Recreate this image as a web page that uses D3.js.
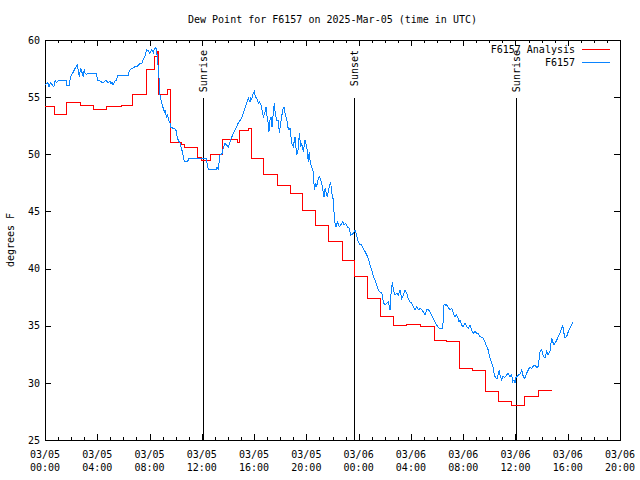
<!DOCTYPE html>
<html><head><meta charset="utf-8">
<script src="https://cdn.jsdelivr.net/npm/d3@7"></script>
<style>
body{margin:0;background:#fff;}
text{font-family:"DejaVu Sans Mono",monospace;font-size:10px;fill:#000;}
</style></head>
<body><svg id="c" width="640" height="480"></svg>
<script>
const title = "Dew Point for F6157 on 2025-Mar-05 (time in UTC)";
const yLabel = "degrees F";
const yTicks = [25,30,35,40,45,50,55,60];
const xTickHours = [0,4,8,12,16,20,24,28,32,36,40,44];
const xTickLabels = [["03/05","00:00"],["03/05","04:00"],["03/05","08:00"],["03/05","12:00"],["03/05","16:00"],["03/05","20:00"],["03/06","00:00"],["03/06","04:00"],["03/06","08:00"],["03/06","12:00"],["03/06","16:00"],["03/06","20:00"]];
const seriesNames = ["F6157 Analysis","F6157"];
const events = [["Sunrise",12.09],["Sunset",23.68],["Sunrise",36.04]];

// analysis (step) : [hours since 03/05 00:00 UTC, deg F]
const analysisSteps = [[0,54.2],[0.71,53.5],[1.68,54.5],[2.73,54.25],[3.7,53.9],[4.72,54.2],[5.82,54.3],[6.71,55.2],[7.75,57.45],[8.36,58.6],[8.62,59.0],[8.72,55.25],[9.39,55.7],[9.62,51.0],[10.41,50.9],[10.64,50.6],[11.66,49.7],[12.0,49.5],[12.7,50.0],[13.56,51.3],[14.74,51.0],[14.92,52.1],[15.6,52.3],[15.77,49.6],[16.7,48.25],[17.77,47.3],[18.75,46.6],[19.69,45.1],[20.72,43.75],[21.69,42.4],[22.77,40.75],[23.72,39.3],[24.69,37.4],[25.69,35.8],[26.65,35.0],[27.68,35.1],[28.77,34.9],[29.77,33.7],[30.74,33.6],[31.68,31.3],[32.75,31.1],[33.74,29.25],[34.69,28.4],[35.71,28.0],[36.68,28.8],[37.75,29.35],[38.77,29.35]];

// station observations : [hours, deg F]
const stationObs = [[0.00,56.06],[0.21,56.26],[0.31,55.91],[0.44,56.30],[0.56,56.06],[0.67,55.91],[0.77,56.44],[0.90,56.26],[1.02,56.47],[1.61,56.47],[1.65,55.98],[1.86,55.98],[1.91,56.44],[1.99,56.88],[2.12,57.09],[2.24,57.38],[2.37,57.66],[2.50,57.87],[2.55,57.09],[2.62,56.85],[2.73,57.52],[2.81,57.23],[2.93,56.79],[3.01,57.44],[3.06,57.09],[3.19,57.00],[3.31,57.09],[3.96,57.09],[4.00,56.50],[4.21,56.41],[4.44,56.24],[4.67,56.50],[4.82,56.24],[4.97,56.41],[5.05,56.15],[5.13,56.33],[5.20,56.06],[5.36,56.41],[5.49,56.44],[5.53,56.85],[5.59,56.88],[6.37,56.88],[6.40,57.11],[6.50,57.38],[6.68,57.52],[6.89,57.66],[7.09,57.73],[7.27,57.96],[7.40,57.90],[7.52,58.31],[7.65,58.60],[7.78,59.13],[7.90,59.06],[8.03,58.84],[8.16,59.13],[8.29,58.89],[8.36,59.19],
[8.42,59.27],[8.49,59.36],[8.54,58.69],[8.62,58.69],[8.67,57.09],[8.72,56.79],[8.80,55.19],[8.88,54.75],[8.93,54.46],[9.05,54.02],[9.13,53.73],[9.18,53.88],[9.26,53.44],[9.31,53.29],[9.39,53.44],[9.44,53.00],[9.57,52.71],[9.64,52.36],[9.82,52.27],[10.00,52.19],[10.08,51.84],[10.12,51.40],[10.20,51.25],[10.33,50.96],[10.41,50.66],[10.54,50.09],[10.66,49.33],[10.84,49.33],[10.97,49.50],[11.02,49.65],[12.32,49.65],[12.50,48.69],[13.14,48.69],[13.16,48.86],[13.26,48.69],[13.39,49.94],[13.52,49.94],[13.64,50.52],[13.77,50.96],[13.90,50.81],[14.03,50.66],[14.16,51.10],[14.29,51.49],[14.41,51.84],[14.54,52.13],[14.67,52.41],[14.79,52.76],[14.92,52.94],[15.05,53.15],[15.17,53.59],[15.30,54.02],[15.43,54.46],[15.56,54.90],[15.69,54.60],[15.74,55.04],[15.82,54.75],[15.89,55.19],[16.02,55.48],[16.10,55.04],[16.20,54.90],[16.33,54.46],[16.41,54.60],[16.51,54.40],[16.58,54.02],[16.71,53.29],[16.84,53.73],[16.92,54.16],[16.97,53.44],[17.09,52.71],[17.14,51.98],[17.22,53.00],[17.29,53.29],[17.37,52.41],[17.47,53.59],[17.55,54.46],[17.62,53.59],[17.73,53.00],[17.85,53.00],[17.93,51.84],[18.04,52.71],[18.11,53.29],[18.19,53.88],[18.29,54.16],[18.37,53.59],[18.44,53.29],[18.54,52.85],[18.62,52.13],[18.75,52.27],[18.88,50.96],[19.00,50.66],[19.13,51.54],[19.26,49.94],[19.39,50.52],[19.46,51.84],[19.57,50.66],[19.64,50.96],[19.77,50.23],[19.90,51.25],[20.03,50.66],[20.15,49.35],[20.22,50.23],[20.28,49.50],[20.36,49.06],[20.53,48.48],[20.61,46.88],[20.72,47.46],[20.79,47.17],[20.91,47.90],[20.99,48.04],[21.10,47.75],[21.18,47.46],[21.30,46.59],[21.35,46.29],[21.43,47.02],[21.50,46.73],[21.60,46.29],[21.76,47.17],[21.86,47.60],[21.94,46.59],[22.02,46.44],[22.12,44.84],[22.19,43.96],[22.27,43.66],[22.37,44.10],[22.52,43.66],[22.63,43.81],[22.78,44.10],[22.88,43.81],[23.01,43.96],[23.13,43.66],[23.29,43.52],[23.39,42.94],[23.55,43.02],[23.72,43.38],[23.80,43.09],[23.93,42.50],[24.05,42.15],[24.23,42.06],[24.36,41.77],[24.49,41.48],[24.62,41.19],[24.74,40.90],[24.87,40.31],[25.00,39.88],[25.13,39.29],[25.25,39.00],[25.38,38.56],[25.51,38.13],[25.64,37.95],[25.77,37.84],[25.84,37.54],[25.89,37.05],[26.01,36.81],[26.15,36.96],[26.27,37.10],[26.32,36.81],[26.40,36.38],[26.47,37.69],[26.55,38.56],[26.59,38.85],[26.65,38.13],[26.78,37.69],[26.91,37.84],[27.04,37.69],[27.17,38.13],[27.30,37.40],[27.42,37.69],[27.55,38.13],[27.68,37.84],[27.78,37.40],[27.93,37.10],[28.06,36.96],[28.19,36.66],[28.32,36.38],[28.45,36.66],[28.57,36.38],[28.70,36.52],[28.83,36.38],[28.95,36.23],[29.08,35.94],[29.21,36.38],[29.33,36.38],[29.46,36.23],[29.59,35.94],[29.71,35.65],[29.84,35.35],[29.97,35.06],[30.10,34.83],[30.23,34.77],[30.43,34.77],[30.48,35.65],[30.53,36.81],[30.61,36.90],[30.69,36.73],[30.74,36.87],[30.86,36.58],[30.99,36.38],[31.12,36.52],[31.20,36.23],[31.30,35.94],[31.37,35.79],[31.50,35.94],[31.63,35.65],[31.68,35.35],[31.76,35.50],[31.89,35.06],[32.01,34.91],[32.14,35.21],[32.27,34.91],[32.39,34.77],[32.52,35.06],[32.65,34.63],[32.77,34.34],[32.90,34.48],[33.03,34.34],[33.16,34.34],[33.28,34.04],[33.41,33.98],[33.54,33.90],[33.67,33.60],[33.80,33.16],[33.92,32.88],[34.05,32.15],[34.18,31.71],[34.31,31.27],[34.38,30.69],[34.51,30.40],[34.61,30.40],[34.76,31.13],[34.82,30.69],[34.95,30.25],[35.02,30.54],[35.19,30.49],[35.32,30.69],[35.45,30.84],[35.58,30.54],[35.71,30.69],[35.79,30.10],[35.89,30.25],[35.97,29.96],[36.05,30.54],[36.10,30.49],[36.22,30.69],[36.35,30.78],[36.48,31.13],[36.60,30.54],[36.73,30.40],[36.86,30.84],[36.98,31.13],[37.11,31.41],[37.24,31.27],[37.37,31.47],[37.50,31.56],[37.65,31.30],[37.75,31.47],[37.82,32.15],[37.88,32.73],[38.01,32.88],[38.11,32.44],[38.26,32.15],[38.39,32.73],[38.49,32.44],[38.64,32.73],[38.77,33.90],[38.85,33.60],[38.95,33.31],[39.03,33.46],[39.16,33.75],[39.28,34.04],[39.41,34.34],[39.54,34.77],[39.62,35.06],[39.66,34.63],[39.79,33.90],[39.87,34.04],[39.97,34.19],[40.04,34.48],[40.17,34.77],[40.30,35.06],[40.43,35.35]];

const svg = d3.select("#c");
const L=45, R=620, T=40, B=440;
const x = d3.scaleLinear().domain([0,44]).range([L,R]);
const y = d3.scaleLinear().domain([25,60]).range([B,T]);
const hourTicks = d3.range(0,45,1).filter(h=>h%4!==0);

svg.append("rect").attr("width",640).attr("height",480).attr("fill","#fff");

// axes with inward ticks
const gB = svg.append("g").attr("transform",`translate(0,${B})`)
  .call(d3.axisBottom(x).tickValues(xTickHours).tickSize(-6).tickPadding(10).tickFormat((d,i)=>""));
const gBm = svg.append("g").attr("transform",`translate(0,${B})`)
  .call(d3.axisBottom(x).tickValues(hourTicks).tickSize(-3).tickFormat(""));
const gT = svg.append("g").attr("transform",`translate(0,${T})`)
  .call(d3.axisTop(x).tickValues(xTickHours).tickSize(-6).tickFormat(""));
const gTm = svg.append("g").attr("transform",`translate(0,${T})`)
  .call(d3.axisTop(x).tickValues(hourTicks).tickSize(-3).tickFormat(""));
const gL = svg.append("g").attr("transform",`translate(${L},0)`)
  .call(d3.axisLeft(y).tickValues(yTicks).tickSize(-6).tickPadding(5).tickFormat(d3.format("d")));
const gR = svg.append("g").attr("transform",`translate(${R},0)`)
  .call(d3.axisRight(y).tickValues(yTicks).tickSize(-6).tickFormat(""));
svg.selectAll(".domain").remove();
svg.selectAll(".tick line").attr("stroke","#000").attr("shape-rendering","crispEdges");
gL.selectAll("text").attr("font-family",null).attr("font-size",null).style("font-size","10px").style("font-family","DejaVu Sans Mono");

// two-line x labels
xTickHours.forEach((h,i)=>{
  const t = svg.append("text").attr("x",x(h)).attr("y",B+18).attr("text-anchor","middle");
  t.append("tspan").attr("x",x(h)).attr("y",B+18).text(xTickLabels[i][0]);
  t.append("tspan").attr("x",x(h)).attr("y",B+31).text(xTickLabels[i][1]);
});

// frame
svg.append("rect").attr("x",L+0.5).attr("y",T+0.5).attr("width",R-L).attr("height",B-T)
  .attr("fill","none").attr("stroke","#000").attr("shape-rendering","crispEdges");

// event lines
events.forEach(([lab,h])=>{
  svg.append("line").attr("x1",Math.round(x(h))+0.5).attr("x2",Math.round(x(h))+0.5)
    .attr("y1",98).attr("y2",B).attr("stroke","#000").attr("shape-rendering","crispEdges");
  svg.append("text").attr("transform",`translate(${Math.round(x(h))+4},50) rotate(-90)`)
    .attr("text-anchor","end").text(lab);
});

// series
const stepLine = d3.line().x(d=>x(d[0])).y(d=>y(d[1])).curve(d3.curveStepAfter);
svg.append("path").datum(analysisSteps).attr("d",stepLine).attr("fill","none")
  .attr("stroke","#ff0000").attr("stroke-width",1).attr("shape-rendering","crispEdges");
const obsLine = d3.line().x(d=>x(d[0])).y(d=>y(d[1]));
svg.append("path").datum(stationObs).attr("d",obsLine).attr("fill","none")
  .attr("stroke","#0a84ff").attr("stroke-width",1).attr("shape-rendering","crispEdges");

// legend
const legColors = ["#ff0000","#0a84ff"];
seriesNames.forEach((n,i)=>{
  const yy = 49 + i*13;
  svg.append("text").attr("x",575).attr("y",yy+3.5).attr("text-anchor","end").text(n);
  svg.append("line").attr("x1",582).attr("x2",610).attr("y1",yy+0.5).attr("y2",yy+0.5)
    .attr("stroke",legColors[i]).attr("shape-rendering","crispEdges");
});

// title & y label
svg.append("text").attr("x",(L+R)/2).attr("y",23).attr("text-anchor","middle").text(title);
svg.append("text").attr("transform",`translate(14,240) rotate(-90)`).attr("text-anchor","middle").text(yLabel);
</script></body></html>
